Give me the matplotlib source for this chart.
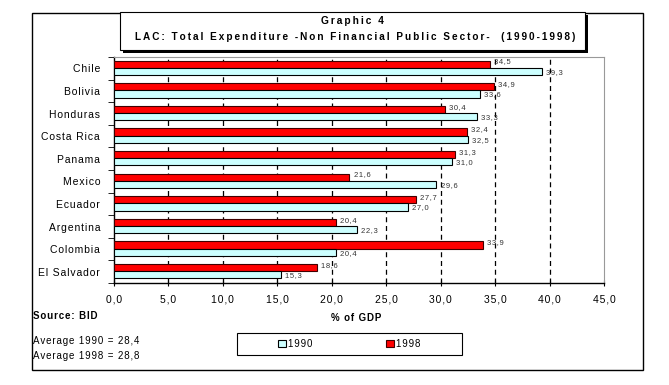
import matplotlib.pyplot as plt
import matplotlib.patches as mpatches
import numpy as np

# --- data ---
countries = ["Chile", "Bolivia", "Honduras", "Costa Rica", "Panama",
             "Mexico", "Ecuador", "Argentina", "Colombia", "El Salvador"]
y1990 = [39.3, 33.6, 33.3, 32.5, 31.0, 29.6, 27.0, 22.3, 20.4, 15.3]
y1998 = [34.5, 34.9, 30.4, 32.4, 31.3, 21.6, 27.7, 20.4, 33.9, 18.6]
xticks = [0, 5, 10, 15, 20, 25, 30, 35, 40, 45]

W, H = 669, 385
plt.rcParams['font.family'] = ['Liberation Sans', 'DejaVu Sans']

fig = plt.figure(figsize=(W / 100, H / 100), dpi=100)

def fx(px):
    return px / W

def fy(py):
    return 1 - py / H

def sp(s, gap='\u200a'):
    # old Excel look: wide letter spacing
    return gap.join(s)

# outer frame
fig.patches.append(mpatches.Rectangle((fx(32), fy(370)), fx(643) - fx(32), fy(13) - fy(370),
                                      transform=fig.transFigure, fill=False, lw=1.0, ec='black'))

ax = fig.add_axes([fx(114), fy(283), fx(604) - fx(114), fy(57) - fy(283)])

pos = np.arange(len(countries))
h = 0.32
b98 = ax.barh(pos - h / 2 - 0.02, y1998, height=h, color='#FF0000', edgecolor='#400000', lw=0.8, zorder=3, label='1998')
b90 = ax.barh(pos + h / 2 - 0.02, y1990, height=h, color='#CCFFFF', edgecolor='black', lw=0.8, zorder=3, label='1990')

for i in range(len(countries)):
    ax.text(y1998[i] + 0.4, pos[i] - h / 2 - 0.12, sp(f"{y1998[i]:.1f}".replace('.', ',')),
            fontsize=5.5, color='#333333', va='center', ha='left', zorder=4)
    ax.text(y1990[i] + 0.4, pos[i] + h / 2 + 0.02, sp(f"{y1990[i]:.1f}".replace('.', ',')),
            fontsize=5.5, color='#333333', va='center', ha='left', zorder=4)

ax.set_xlim(0, 45)
ax.set_ylim(len(countries) - 0.5, -0.5)
ax.set_xticks(xticks)
ax.set_xticklabels([sp(f"{v:.1f}".replace('.', ',')) for v in xticks], fontsize=7.5)
ax.set_yticks(pos)
ax.set_yticklabels([sp(c) for c in countries], fontsize=7.5)
ax.tick_params(axis='y', length=0, pad=10)
ax.set_yticks(np.arange(-0.5, len(countries) + 0.5, 1), minor=True)
ax.tick_params(axis='y', which='minor', length=4, direction='out')
ax.tick_params(axis='x', length=4, direction='inout', pad=6)

for v in xticks[1:-1]:
    ax.axvline(v, color='black', ls=(0, (4, 3)), lw=0.9, zorder=1)
ax.spines['top'].set_color('#999999')
ax.spines['right'].set_color('#999999')
ax.spines['left'].set_linewidth(1.0)
ax.spines['bottom'].set_linewidth(1.0)

# title box with shadow
tx0, ty0, tx1, ty1 = 120, 12, 585, 50
fig.patches.append(mpatches.Rectangle((fx(tx0 + 3), fy(ty1 + 3)), fx(tx1) - fx(tx0), fy(ty0) - fy(ty1),
                                      transform=fig.transFigure, fc='black', ec='black', lw=0))
fig.patches.append(mpatches.Rectangle((fx(tx0), fy(ty1)), fx(tx1) - fx(tx0), fy(ty0) - fy(ty1),
                                      transform=fig.transFigure, fc='white', ec='black', lw=0.8))
fig.text(fx(352), fy(21), sp("Graphic 4", '\u2009'), ha='center', va='center', fontsize=7.3, fontweight='bold')
fig.text(fx(355), fy(37), sp("LAC: Total Expenditure -Non Financial Public Sector-  (1990-1998)", '\u2009'),
         ha='center', va='center', fontsize=7.2, fontweight='bold')

fig.text(fx(33), fy(316), sp("Source: BID"), ha='left', va='center', fontsize=7, fontweight='bold')
fig.text(fx(356), fy(318), sp("% of GDP"), ha='center', va='center', fontsize=7, fontweight='bold')
fig.text(fx(33), fy(341), sp("Average 1990 = 28,4"), ha='left', va='center', fontsize=7)
fig.text(fx(33), fy(356), sp("Average 1998 = 28,8"), ha='left', va='center', fontsize=7)

# legend: frame drawn separately to match the wide box
fig.patches.append(mpatches.Rectangle((fx(237), fy(355)), fx(462) - fx(237), fy(333) - fy(355),
                                      transform=fig.transFigure, fill=False, lw=0.8, ec='black'))
leg = fig.legend(handles=[b90, b98], labels=[sp('1990'), sp('1998')], ncol=2,
                 loc='center left', bbox_to_anchor=(fx(270), fy(344)),
                 fontsize=7, frameon=False,
                 handlelength=0.8, handleheight=0.8, handletextpad=0.3,
                 columnspacing=7.5, borderpad=0.3)

fig.savefig("out.png", dpi=100)
